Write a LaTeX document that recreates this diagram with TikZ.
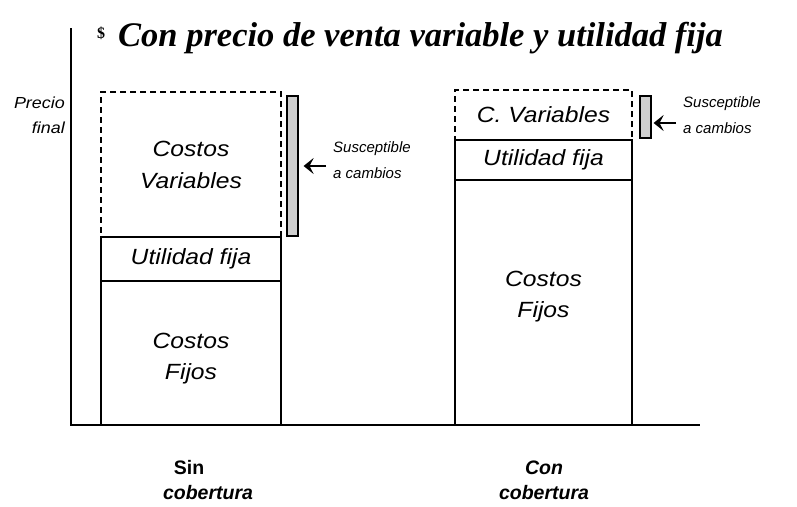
\documentclass[tikz,border=0pt]{standalone}
\usepackage{fontspec}
\setmainfont{Liberation Serif}
\setsansfont{Liberation Sans}
\newfontfamily\anchasans[FakeStretch=1.12]{Liberation Sans}
\usetikzlibrary{arrows.meta,positioning}
\definecolor{stip}{HTML}{CFCFCF}
\tikzset{
  seg/.style={draw,line width=1.2pt,inner sep=0pt,align=center,font=\anchasans\itshape\fontsize{22}{32}\selectfont},
  segtxt/.style={inner sep=0pt,align=center,font=\anchasans\itshape\fontsize{22}{31}\selectfont},
  varseg/.style={seg,dash pattern=on 6pt off 4pt},
  band/.style={draw,line width=1.2pt,fill=stip,inner sep=0pt,minimum width=11},
  note/.style={font=\sffamily\itshape\fontsize{15}{26}\selectfont,align=left,inner sep=0pt},
  ar/.style={-{Stealth[length=10pt,width=16pt,inset=4pt]},line width=1.8pt},
  rotulo/.style={font=\sffamily\bfseries\itshape\fontsize{19.5}{25}\selectfont,inner sep=0pt}
}
\begin{document}
\begin{tikzpicture}[x=1pt,y=-1pt]
\useasboundingbox (0,0) rectangle (797,506);
% titulo
\node[font=\bfseries\fontsize{16}{16}\selectfont,inner sep=0pt] (dolar) at (101,33) {\$};
\node[font=\bfseries\itshape\fontsize{34.5}{34.5}\selectfont,anchor=base west,inner sep=0pt] (titulo) at (118,46) {Con precio de venta variable y utilidad fija};
% ejes
\coordinate (ejetop) at (71,28);
\coordinate (origen) at (71,425);
\coordinate (ejeder) at (700,425);
\draw[line width=1.3pt] (ejetop) -- (origen) -- (ejeder);
\node[font=\anchasans\itshape\fontsize{16}{25}\selectfont,align=right,anchor=east,inner sep=0pt] (precio) at (65,115) {Precio\\final};
% sin cobertura
\node[varseg,minimum width=180,minimum height=145] (varA) at (191,164.5) {Costos\\Variables};
\node[seg,fill=white,minimum width=180,minimum height=44] (utiA) at (191,259) {Utilidad fija};
\node[seg,minimum width=180,minimum height=144] (fijA) at (191,353) {};
\node[segtxt] (txtA) at ([yshift=-6pt]fijA.center) {Costos\\Fijos};
\node[band,minimum height=140] (bandA) at (292.5,166) {};
\node[note,anchor=west] (notaA) at (333,160) {Susceptible\\a cambios};
\draw[ar,shorten >=5pt] (notaA.west) ++(-7,6) coordinate (flechaA) -- (flechaA -| bandA.east);
% con cobertura
\node[varseg,minimum width=177,minimum height=50] (varB) at (543.5,115) {C. Variables};
\node[seg,fill=white,minimum width=177,minimum height=40] (utiB) at (543.5,160) {Utilidad fija};
\node[seg,minimum width=177,minimum height=245] (fijB) at (543.5,302.5) {};
\node[segtxt] (txtB) at ([yshift=6pt]fijB.center) {Costos\\Fijos};
\node[band,minimum height=42] (bandB) at (645.5,117) {};
\node[note,anchor=west] (notaB) at (683,115) {Susceptible\\a cambios};
\draw[ar,shorten >=2pt] (notaB.west) ++(-7,8) coordinate (flechaB) -- (flechaB -| bandB.east);
% rotulos
\node[rotulo,font=\sffamily\bfseries\fontsize{19.5}{25}\selectfont] (sin) at (189,468) {Sin};
\node[rotulo] (cobA) at (208,493) {cobertura};
\node[rotulo] (con) at (544,468) {Con};
\node[rotulo] (cobB) at (544,493) {cobertura};
\end{tikzpicture}
\end{document}
